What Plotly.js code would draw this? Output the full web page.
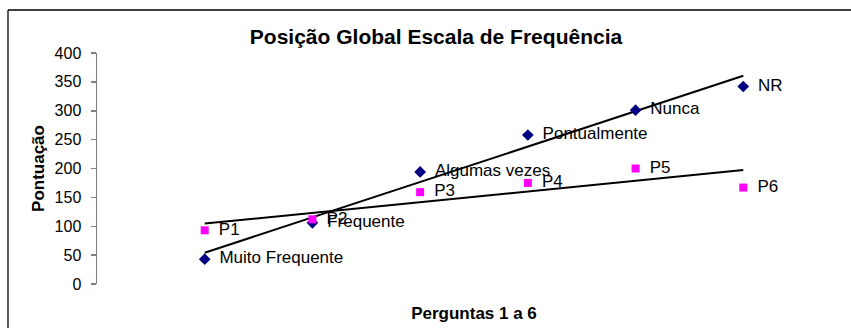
<!DOCTYPE html>
<html>
<head>
<meta charset="utf-8">
<script src="https://cdn.plot.ly/plotly-3.0.1.min.js"></script>
<style>
  html, body { margin: 0; padding: 0; background: #fff; }
  #chart { width: 851px; height: 328px; }
</style>
</head>
<body>
<div id="chart"></div>
<script>
// Data
const questions = [1, 2, 3, 4, 5, 6];
const frequencyLabels = ["Muito Frequente", "Frequente", "Algumas vezes", "Pontualmente", "Nunca", "NR"];
const frequencyScores = [43, 106, 194, 258, 301, 342];
const questionLabels = ["P1", "P2", "P3", "P4", "P5", "P6"];
const questionScores = [93, 112, 159, 175, 200, 167];
const yTicks = [0, 50, 100, 150, 200, 250, 300, 350, 400];

function linearTrend(xs, ys) {
  const n = xs.length;
  const mx = xs.reduce((a, b) => a + b, 0) / n;
  const my = ys.reduce((a, b) => a + b, 0) / n;
  let sxy = 0, sxx = 0;
  for (let i = 0; i < n; i++) { sxy += (xs[i] - mx) * (ys[i] - my); sxx += (xs[i] - mx) ** 2; }
  const slope = sxy / sxx, icpt = my - slope * mx;
  const x0 = Math.min(...xs), x1 = Math.max(...xs);
  return { x: [x0, x1], y: [icpt + slope * x0, icpt + slope * x1] };
}

const t1 = linearTrend(questions, frequencyScores);
const t2 = linearTrend(questions, questionScores);

const labelFont = { family: "Liberation Sans, Arial, sans-serif", size: 17, color: "#000" };

const traces = [
  { x: t1.x, y: t1.y, mode: "lines", line: { color: "#000", width: 2 }, hoverinfo: "skip" },
  { x: t2.x, y: t2.y, mode: "lines", line: { color: "#000", width: 2 }, hoverinfo: "skip" },
  {
    x: questions, y: frequencyScores, text: frequencyLabels, mode: "markers+text",
    texttemplate: "\u00a0\u2009%{text}",
    textposition: "middle right", textfont: labelFont,
    marker: { symbol: "diamond", color: "#000080", size: 9 }
  },
  {
    x: questions, y: questionScores, text: questionLabels, mode: "markers+text",
    texttemplate: "\u00a0\u2009%{text}",
    textposition: "middle right", textfont: labelFont,
    marker: { symbol: "square", color: "#FF00FF", size: 8 }
  }
];

const layout = {
  width: 851, height: 328,
  margin: { l: 97, r: 0, t: 53, b: 44 },
  paper_bgcolor: "#fff", plot_bgcolor: "#fff",
  showlegend: false,
  font: { family: "Liberation Sans, Arial, sans-serif", size: 16, color: "#000" },
  title: {
    text: "<b>Posição Global Escala de Frequência</b>",
    font: { size: 21, color: "#000" },
    xref: "container", x: 436 / 851, xanchor: "center",
    yref: "container", y: 1 - 37 / 328, yanchor: "middle"
  },
  xaxis: {
    range: [0, 7], showgrid: false, zeroline: false, showline: false,
    showticklabels: false, ticks: "",
    title: { text: "<b>Perguntas 1 a 6</b>", font: { size: 17 }, standoff: 23 }
  },
  yaxis: {
    range: [0, 400], tickvals: yTicks, showgrid: false, zeroline: false,
    showline: true, linecolor: "#808080", linewidth: 1.5,
    ticks: "outside", ticklen: 5, tickcolor: "#808080", tickwidth: 1.5,
    ticklabelstandoff: 6,
    tickfont: { size: 16 },
    title: { text: "<b>Pontuação</b>", font: { size: 17 }, standoff: 5 }
  },
  shapes: [
    { type: "line", xref: "paper", yref: "paper", x0: (8 - 97) / 754, x1: 1.2, y0: (284 - 10) / 231, y1: (284 - 10) / 231, line: { color: "#000", width: 1.3 } },
    { type: "line", xref: "paper", yref: "paper", x0: (8 - 97) / 754, x1: (8 - 97) / 754, y0: (284 - 10) / 231, y1: -0.5, line: { color: "#000", width: 1.3 } }
  ]
};

Plotly.newPlot("chart", traces, layout, { staticPlot: true, displayModeBar: false });
</script>
</body>
</html>
